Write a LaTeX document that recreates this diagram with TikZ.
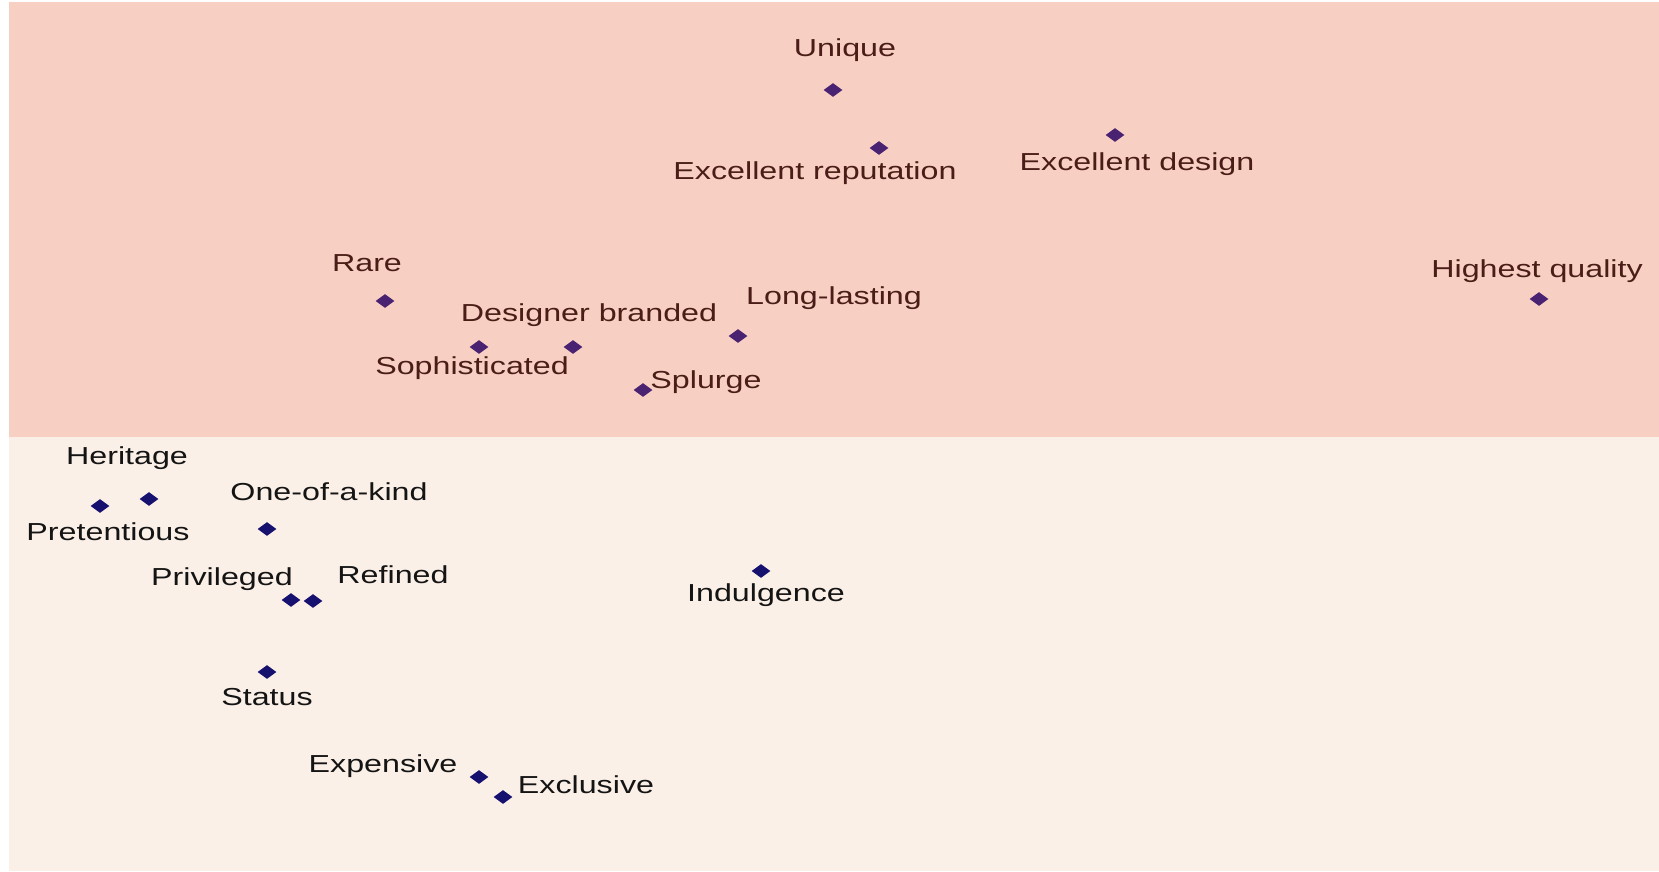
\documentclass[tikz,border=0pt]{standalone}
\usepackage{fontspec}
\setmainfont{Liberation Sans}[FakeStretch=1.31]
\usepackage{xcolor}
\usetikzlibrary{shapes.geometric}
\definecolor{upperbg}{HTML}{F7CFC3}
\definecolor{lowerbg}{HTML}{FBF0E8}
\definecolor{uppertext}{HTML}{4A1E16}
\definecolor{upperpt}{HTML}{4A2272}
\definecolor{lowerpt}{HTML}{16106E}
\definecolor{lowertext}{HTML}{141414}

\begin{document}
\begin{tikzpicture}[
  x=0.5pt,y=-0.5pt,
  every node/.style={font=\fontsize{12.3}{14}\selectfont},
  hipoint/.style={diamond,aspect=1.4,fill=upperpt,inner sep=0pt,
    minimum width=9.5pt,minimum height=7pt},
  lopoint/.style={hipoint,fill=lowerpt},
  hilabel/.style={anchor=base,inner sep=0pt,text=uppertext},
  lolabel/.style={anchor=base,inner sep=0pt,text=lowertext}
]
  \useasboundingbox (0,0) rectangle (1659,872);
  \fill[upperbg] (9,2) rectangle (1659,437);
  \fill[lowerbg] (9,437) rectangle (1659,871);

  % upper panel
  \node[hipoint] (unique) at (833,90) {};
  \node[hipoint] (excrep) at (879,148) {};
  \node[hipoint] (excdes) at (1115,135) {};
  \node[hipoint] (highq) at (1539,299) {};
  \node[hipoint] (longlast) at (738,336) {};
  \node[hipoint] (splurge) at (643,390) {};
  \node[hipoint] (desbrand) at (573,347) {};
  \node[hipoint] (soph) at (479,347) {};
  \node[hipoint] (rare) at (385,301) {};

  \node[hilabel] (uniquetxt) at (845,57) {Unique};
  \node[hilabel] (excreptxt) at (815,179) {Excellent reputation};
  \node[hilabel] (excdestxt) at (1137,170) {Excellent design};
  \node[hilabel] (highqtxt) at (1537,277) {Highest quality};
  \node[hilabel] (longlasttxt) at (834,304) {Long-lasting};
  \node[hilabel] (desbrandtxt) at (589,321) {Designer branded};
  \node[hilabel] (splurgetxt) at (706,388) {Splurge};
  \node[hilabel] (raretxt) at (367,271) {Rare};
  \node[hilabel] (sophtxt) at (472,374) {Sophisticated};

  % lower panel
  \node[lopoint] (heritage) at (149,499) {};
  \node[lopoint] (pretent) at (100,506) {};
  \node[lopoint] (oneofkind) at (267,529) {};
  \node[lopoint] (privil) at (291,600) {};
  \node[lopoint] (refined) at (313,601) {};
  \node[lopoint] (status) at (267,672) {};
  \node[lopoint] (indulg) at (761,571) {};
  \node[lopoint] (expens) at (479,777) {};
  \node[lopoint] (exclus) at (503,797) {};

  \node[lolabel] (heritagetxt) at (127,464) {Heritage};
  \node[lolabel] (oneofkindtxt) at (329,500) {One-of-a-kind};
  \node[lolabel] (pretenttxt) at (108,540) {Pretentious};
  \node[lolabel] (priviltxt) at (222,585) {Privileged};
  \node[lolabel] (refinedtxt) at (393,583) {Refined};
  \node[lolabel] (indulgtxt) at (766,601) {Indulgence};
  \node[lolabel] (statustxt) at (267,705) {Status};
  \node[lolabel] (expenstxt) at (383,772) {Expensive};
  \node[lolabel] (exclustxt) at (586,793) {Exclusive};
\end{tikzpicture}
\end{document}
